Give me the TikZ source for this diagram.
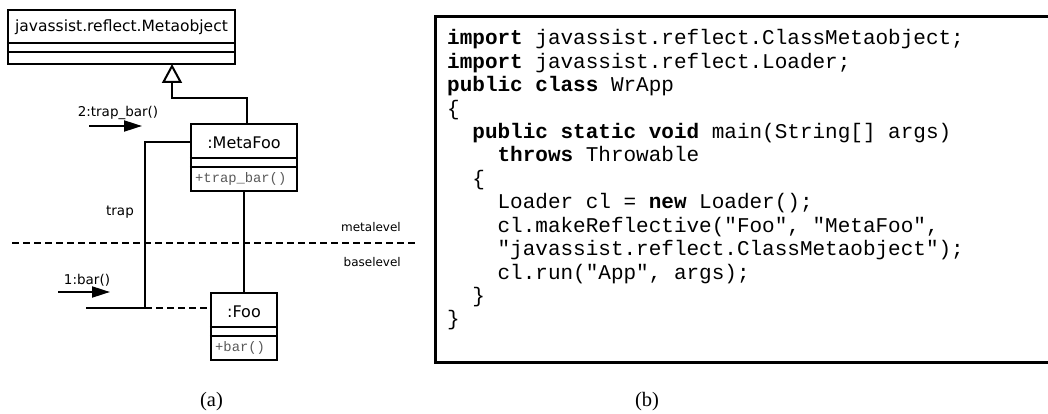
\documentclass[tikz,border=0pt]{standalone}
\usepackage{fontspec}
\setmainfont{Liberation Serif}
\newfontfamily\dvs{DejaVu Sans}
\newfontfamily\lmono{Liberation Mono}
\usetikzlibrary{arrows.meta}
\tikzset{
  umlbox/.style={draw, line width=2.5pt, rectangle, inner sep=0pt},
  sep/.style={line width=2.5pt},
  conn/.style={line width=2pt},
  dashline/.style={line width=2pt, dash pattern=on 7pt off 4pt},
  lbl/.style={font=\dvs\fontsize{13.5}{15}\selectfont, inner sep=0pt},
  boxname/.style={font=\dvs\fontsize{16}{18}\selectfont, inner sep=0pt},
  meth/.style={font=\lmono\fontsize{13.8}{15}\selectfont, text=black!65, inner sep=0pt, anchor=west},
  codeline/.style={font=\lmono\fontsize{21}{23}\selectfont, inner sep=0pt, anchor=base west},
  capt/.style={font=\fontsize{20.5}{24}\selectfont, inner sep=0pt},
  arr/.style={conn, -{Triangle[length=18pt,width=11pt]}}
}
\begin{document}
\begin{tikzpicture}[x=1pt,y=-1pt]
\useasboundingbox (0,0) rectangle (1048,414);

% Metaobject
\node[umlbox, minimum width=227pt, minimum height=54pt] (meta) at (121.5,37) {};
\node[font=\dvs\fontsize{15.5}{18}\selectfont, inner sep=0pt] (metaname) at (121.5,27) {javassist.reflect.Metaobject};
\draw[sep] (meta.west |- 0,43) -- (meta.east |- 0,43);
\draw[sep] (meta.west |- 0,52) -- (meta.east |- 0,52);

% MetaFoo
\node[umlbox, minimum width=106pt, minimum height=67pt] (mf) at (244,157.5) {};
\node[boxname] (mfname) at (244,143) {:MetaFoo};
\draw[sep] (mf.west |- 0,158) -- (mf.east |- 0,158);
\draw[sep] (mf.west |- 0,167) -- (mf.east |- 0,167);
\node[meth] (mfm) at (195,179) {+trap\_bar()};

% Foo
\node[umlbox, minimum width=66pt, minimum height=67pt] (foo) at (244,326.5) {};
\node[boxname] (fooname) at (244,312) {:Foo};
\draw[sep] (foo.west |- 0,327) -- (foo.east |- 0,327);
\draw[sep] (foo.west |- 0,336) -- (foo.east |- 0,336);
\node[meth] (foom) at (215,348) {+bar()};

% inheritance
\coordinate (tip) at (172,64);
\draw[conn, -{Triangle[open, length=19pt, width=20pt, fill=white]}] ([xshift=3pt]mf.north) |- (172,98) -- (tip);

% association
\draw[conn] (mf) -- (foo);

% trap path
\coordinate (trapcorner) at (145,308);
\coordinate (trapend) at (86,308);
\draw[conn] (mf.west |- 0,142) -| (trapcorner) -- (trapend);
\draw[dashline] (trapcorner) -- (foo.west |- trapcorner);
\node[lbl] (traplbl) at (120,212) {trap};

% level separator
\coordinate (ml1) at (12,243);
\coordinate (ml2) at (418,243);
\draw[dashline] (ml1) -- (ml2);
\node[font=\dvs\fontsize{12}{14}\selectfont, inner sep=0pt, anchor=east] (metalvl) at (401,227) {metalevel};
\node[font=\dvs\fontsize{12}{14}\selectfont, inner sep=0pt, anchor=east] (baselvl) at (401,262) {baselevel};

% messages
\coordinate (a2s) at (89,126);
\coordinate (a2e) at (142,126);
\draw[arr] (a2s) -- (a2e);
\node[lbl] (m2) at (118,113) {2:trap\_bar()};
\coordinate (a1s) at (58,292);
\coordinate (a1e) at (110,292);
\draw[arr] (a1s) -- (a1e);
\node[lbl] (m1) at (87,280) {1:bar()};

% code box
\draw[line width=3pt] (1050,17) -- (435,17) -- (435,362) -- (1050,362);
\node[codeline] (c1) at (447,45) {\textbf{import} javassist.reflect.ClassMetaobject;};
\node[codeline] (c2) at (447,68.4) {\textbf{import} javassist.reflect.Loader;};
\node[codeline] (c3) at (447,91.8) {\textbf{public class} WrApp};
\node[codeline] (c4) at (447,115.2) {\{};
\node[codeline] (c5) at (472.2,138.6) {\textbf{public static void} main(String[] args)};
\node[codeline] (c6) at (497.4,162) {\textbf{throws} Throwable};
\node[codeline] (c7) at (472.2,185.4) {\{};
\node[codeline] (c8) at (497.4,208.8) {Loader cl = \textbf{new} Loader();};
\node[codeline] (c9) at (497.4,232.2) {cl.makeReflective("Foo", "MetaFoo",};
\node[codeline] (c10) at (497.4,255.6) {"javassist.reflect.ClassMetaobject");};
\node[codeline] (c11) at (497.4,279) {cl.run("App", args);};
\node[codeline] (c12) at (472.2,302.4) {\}};
\node[codeline] (c13) at (447,325.8) {\}};

% captions
\node[capt] (capa) at (211.5,402) {(a)};
\node[capt] (capb) at (647,402) {(b)};
\end{tikzpicture}
\end{document}
